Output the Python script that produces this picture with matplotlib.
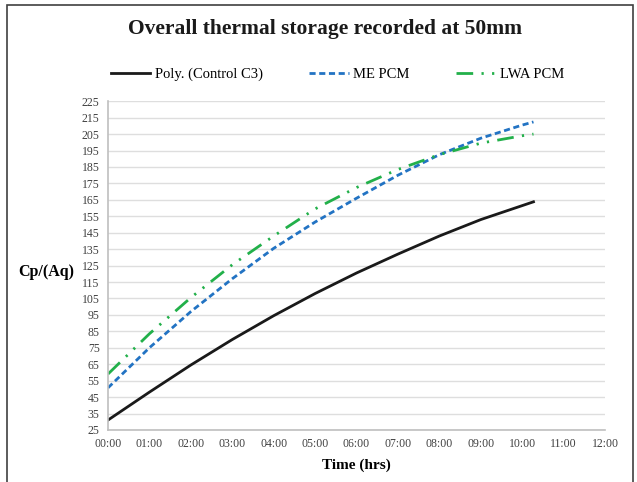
import matplotlib.pyplot as plt
from matplotlib.patches import Rectangle

# hours since start
hours = [0, 1, 2, 3, 4, 5, 6, 7, 8, 9, 10, 10.27]
control_c3 = [31, 48, 64.5, 80, 94.5, 108, 120.5, 132, 143, 153, 161.5, 163.8]
me_pcm = [50.6, 75, 97, 117, 135.5, 151.5, 166, 180, 192.5, 202.5, 210.5, 212.4]
lwa_pcm = [59, 83.5, 105.5, 125.5, 143, 159.5, 172.5, 183.5, 192.5, 199.5, 204, 205]

x_ticks = list(range(0, 13))
x_labels = ['%02d:00' % h for h in x_ticks]
y_ticks = list(range(25, 226, 10))

plt.rcParams['font.family'] = ['Liberation Serif', 'DejaVu Serif']

fig = plt.figure(figsize=(6.37, 4.82), dpi=100)
ax = fig.add_axes([0.1695, 0.108, 0.7805, 0.682])

ax.plot(hours, control_c3, color='#1a1a1a', lw=2, label='Poly. (Control C3)')
ax.plot(hours, me_pcm, color='#2273C3', lw=2, linestyle=(0, (2.2, 1.3)), label='ME PCM')
ax.plot(hours, lwa_pcm, color='#22B04A', lw=2, linestyle=(0, (6, 3, 0.8, 3, 0.8, 3)), label='LWA PCM')

ax.set_xlim(0, 12)
ax.set_ylim(25, 225)
ax.set_xticks(x_ticks)
ax.set_xticklabels(x_labels)
ax.set_yticks(y_ticks)
ax.tick_params(labelsize=8.5, length=0, colors='#404040', pad=6)
ax.grid(axis='y', color='#dedede', lw=1)
ax.set_axisbelow(True)
for s in ['top', 'right']:
    ax.spines[s].set_visible(False)
for s in ['left', 'bottom']:
    ax.spines[s].set_color('#bfbfbf')
    ax.spines[s].set_linewidth(1.2)

ax.set_xlabel('Time (hrs)', fontsize=11, fontweight='bold', labelpad=6)
fig.text(0.028, 0.436, 'Cp/(Aq)', fontsize=11.5, fontweight='bold', va='center')

fig.text(0.51, 0.939, 'Overall thermal storage recorded at 50mm', fontsize=15.5,
         fontweight='bold', ha='center', va='center', color='#1a1a1a')

fig.legend(loc='center', bbox_to_anchor=(0.53, 0.846), ncol=3, frameon=False,
           fontsize=10.5, handlelength=2.7, columnspacing=3.2, handletextpad=0.3)

fig.patches.append(Rectangle((0.011, -0.1), 0.983, 1.09, transform=fig.transFigure,
                             fill=False, edgecolor='#404040', lw=1.2))

plt.savefig('out.png', dpi=100)
